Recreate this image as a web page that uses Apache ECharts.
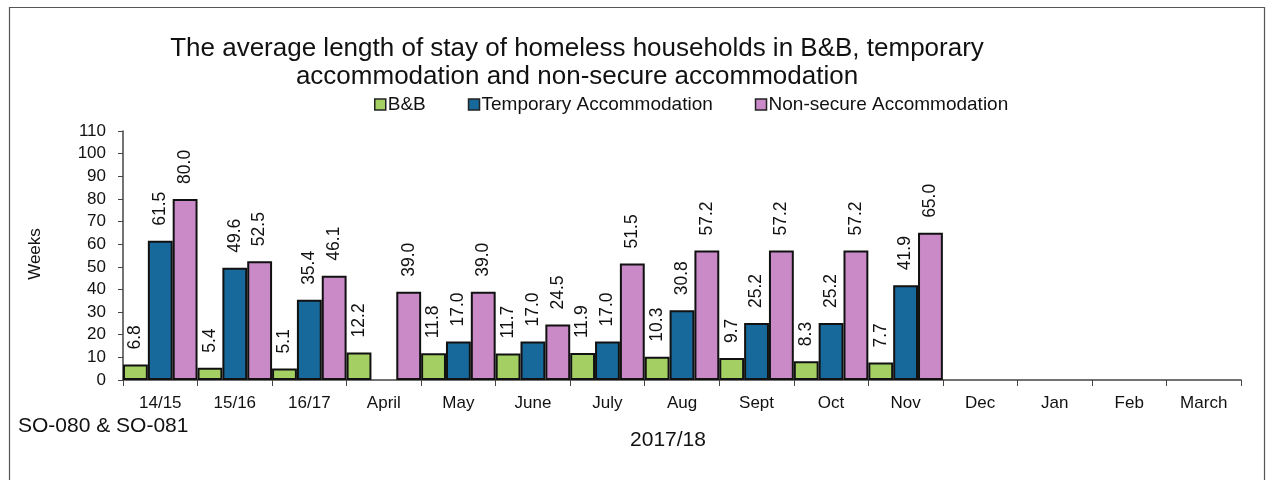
<!DOCTYPE html>
<html>
<head>
<meta charset="utf-8">
<script src="https://cdn.jsdelivr.net/npm/echarts@6/dist/echarts.min.js"></script>
<style>
  html, body { margin: 0; padding: 0; background: #fff; }
  #chart { width: 1274px; height: 480px; }
</style>
</head>
<body>
<div id="chart"></div>
<script>
// Periods on the category axis
const periods = ['14/15', '15/16', '16/17', 'April', 'May', 'June', 'July', 'Aug', 'Sept', 'Oct', 'Nov', 'Dec', 'Jan', 'Feb', 'March'];

// Average length of stay in weeks (null = no figure yet)
const bandb = [6.8, 5.4, 5.1, 12.2, 11.8, 11.7, 11.9, 10.3, 9.7, 8.3, 7.7, null, null, null, null];
const temporary = [61.5, 49.6, 35.4, null, 17.0, 17.0, 17.0, 30.8, 25.2, 25.2, 41.9, null, null, null, null];
const nonSecure = [80.0, 52.5, 46.1, 39.0, 39.0, 24.5, 51.5, 57.2, 57.2, 57.2, 65.0, null, null, null, null];

// Weeks axis ticks
const yTicks = [0, 10, 20, 30, 40, 50, 60, 70, 80, 90, 100, 110];

const FONT = '"Liberation Sans", Arial, sans-serif';
const INK = '#111';

const chart = echarts.init(document.getElementById('chart'), null, { renderer: 'canvas' });

const valueLabel = {
  show: true,
  position: 'top',
  rotate: 90,
  align: 'left',
  verticalAlign: 'middle',
  distance: 15,
  fontFamily: FONT,
  fontSize: 17.5,
  color: INK,
  formatter: p => (p.value == null ? '' : Number(p.value).toFixed(1))
};

function barSeries(name, data, color) {
  return {
    name: name,
    type: 'bar',
    data: data,
    barGap: '0%',
    barCategoryGap: '0%',
    itemStyle: { color: color, borderColor: '#111', borderWidth: 2 },
    label: valueLabel,
    emphasis: { disabled: true }
  };
}

chart.setOption({
  animation: false,
  backgroundColor: '#fff',
  textStyle: { fontFamily: FONT },
  title: {
    text: 'The average length of stay of homeless households in B&B, temporary\naccommodation and non-secure accommodation',
    left: 572,
    top: 30,
    textAlign: 'center',
    textStyle: { fontFamily: FONT, fontSize: 26, fontWeight: 'normal', color: INK, lineHeight: 28 }
  },
  legend: {
    top: 90,
    left: 369,
    itemWidth: 11,
    itemHeight: 11,
    itemGap: 42,
    icon: 'rect',
    textStyle: { fontFamily: FONT, fontSize: 19, color: INK, padding: [0, 0, 0, -3] },
    itemStyle: { borderColor: '#222', borderWidth: 1.5 },
    data: ['B&B', 'Temporary Accommodation', 'Non-secure Accommodation']
  },
  grid: { left: 123, right: 33, top: 131, bottom: 100, containLabel: false },
  xAxis: {
    type: 'category',
    data: periods,
    axisLine: { lineStyle: { color: '#444', width: 1.5 } },
    axisTick: { show: true, length: 6, lineStyle: { color: '#444' } },
    axisLabel: { fontFamily: FONT, fontSize: 17, color: INK, margin: 15 }
  },
  yAxis: {
    type: 'value',
    min: yTicks[0],
    max: yTicks[yTicks.length - 1],
    interval: 10,
    splitLine: { show: false },
    axisLine: { show: true, lineStyle: { color: '#444', width: 1.5 } },
    axisTick: { show: true, length: 5, lineStyle: { color: '#444' } },
    axisLabel: { fontFamily: FONT, fontSize: 17, color: INK, margin: 17 }
  },
  graphic: [
    {
      type: 'rect',
      shape: { x: 9.5, y: 7.5, width: 1255, height: 500 },
      style: { fill: 'none', stroke: '#555', lineWidth: 1.2 },
      silent: true
    },
    {
      type: 'text',
      x: 35,
      y: 254,
      rotation: Math.PI / 2,
      style: { text: 'Weeks', fontFamily: FONT, fontSize: 17, fill: INK, align: 'center', verticalAlign: 'middle' }
    },
    {
      type: 'text',
      left: 18,
      top: 416,
      style: { text: 'SO-080 & SO-081', fontFamily: FONT, fontSize: 21, fill: INK }
    },
    {
      type: 'text',
      x: 668,
      y: 440,
      style: { text: '2017/18', fontFamily: FONT, fontSize: 21, fill: INK, align: 'center', verticalAlign: 'middle' }
    }
  ],
  series: [
    barSeries('B&B', bandb, '#a3cf63'),
    barSeries('Temporary Accommodation', temporary, '#17699b'),
    barSeries('Non-secure Accommodation', nonSecure, '#c98ac7')
  ]
});
</script>
</body>
</html>
